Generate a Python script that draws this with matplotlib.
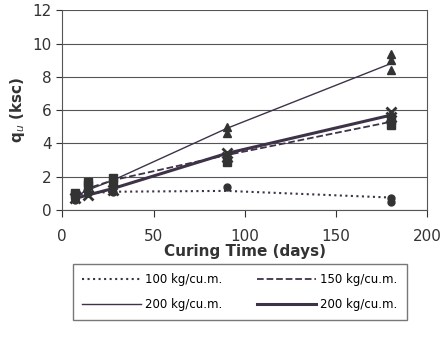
import numpy as np
import matplotlib
matplotlib.use('Agg')
import matplotlib.pyplot as plt

# curing time (days)
days = [7, 14, 28, 90, 180]

# fitted lines per cement content (ksc)
q100 = [0.9, 1.0, 1.1, 1.15, 0.75]
q150 = [0.9, 1.3, 1.8, 3.3, 5.3]
q200a = [0.8, 1.2, 1.8, 4.9, 8.8]
q200b = [0.7, 0.9, 1.3, 3.4, 5.7]

# measured points (replicates)
pt100_x = [7, 7, 14, 28, 90, 180, 180]
pt100_y = [0.8, 0.6, 1.0, 1.1, 1.4, 0.7, 0.5]
pt150_x = [7, 7, 14, 14, 28, 28, 90, 180, 180]
pt150_y = [0.9, 1.0, 1.5, 1.7, 1.9, 1.6, 2.9, 5.1, 5.4]
pt200a_x = [7, 14, 28, 90, 90, 180, 180, 180]
pt200a_y = [0.8, 1.2, 1.5, 5.0, 4.6, 9.4, 9.0, 8.4]
pt200b_x = [7, 14, 28, 90, 90, 180, 180]
pt200b_y = [0.7, 0.9, 1.2, 3.4, 3.2, 5.9, 5.6]

col = '#3e3249'
mk = '#333333'

fig = plt.figure(figsize=(4.45, 3.46), dpi=100)
ax = fig.add_axes([0.14, 0.393, 0.82, 0.577])

l1, = ax.plot(days, q100, ':', color=col, lw=1.5, label='100 kg/cu.m.')
l2, = ax.plot(days, q150, '--', color=col, lw=1.3, label='150 kg/cu.m.')
l3, = ax.plot(days, q200a, '-', color=col, lw=1.0, label='200 kg/cu.m.')
l4, = ax.plot(days, q200b, '-', color=col, lw=2.2, label='200 kg/cu.m.')

ax.plot(pt100_x, pt100_y, 'o', color=mk, ms=5, ls='none')
ax.plot(pt150_x, pt150_y, 's', color=mk, ms=6, ls='none')
ax.plot(pt200a_x, pt200a_y, '^', color=mk, ms=6, ls='none')
ax.plot(pt200b_x, pt200b_y, 'x', color=mk, ms=7, mew=2, ls='none')

ax.set_xlim(0, 200)
ax.set_ylim(0, 12)
ax.set_xticks([0, 50, 100, 150, 200])
ax.set_yticks(range(0, 13, 2))
ax.grid(axis='y', color='#555555', lw=0.8)
ax.spines['top'].set_visible(False)
for s in ax.spines.values():
    s.set_color('#555555')
ax.tick_params(axis='x', direction='out', length=5, pad=9, labelsize=11, colors='#333333')
ax.tick_params(axis='y', length=4, labelsize=11, colors='#333333')

ax.set_xlabel('Curing Time (days)', fontsize=11, fontweight='bold', color='#333333', labelpad=0)
ax.set_ylabel('q$_u$ (ksc)', fontsize=11, fontweight='bold', color='#333333')

# row1 = 100 / 150, row2 = 200 thin / 200 thick
hs = [l1, l3, l2, l4]
fig.legend(handles=hs, labels=[h.get_label() for h in hs],
           loc='upper left', bbox_to_anchor=(0.15, 0.255), ncol=2, fontsize=8.5,
           frameon=True, fancybox=False, edgecolor='#555555', handlelength=5,
           columnspacing=3, borderpad=0.8, labelspacing=1.0, handletextpad=0.3)
fig.savefig('out.png')
